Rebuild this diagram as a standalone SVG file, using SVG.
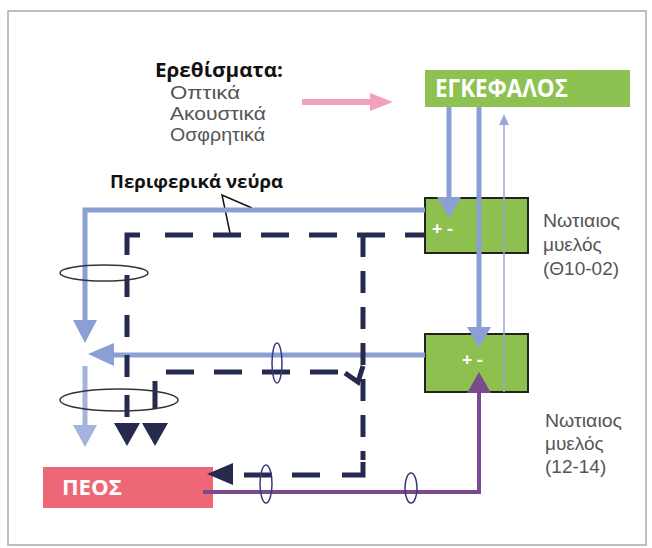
<svg xmlns="http://www.w3.org/2000/svg" width="652" height="548" viewBox="0 0 652 548">
<style>
.lbl{font-family:"Liberation Sans","DejaVu Sans",sans-serif;fill:#555;font-size:19px}
.bold{font-family:"Open Sans","Noto Sans","DejaVu Sans",sans-serif;font-weight:bold;fill:#111}
.wt{font-family:"Open Sans","Noto Sans","DejaVu Sans",sans-serif;font-weight:bold;fill:#fff}
.blue{fill:none;stroke:#8b9fd5;stroke-width:5}
.lblue{fill:none;stroke:#a3b3dc;stroke-width:5}
.dash{fill:none;stroke:#252a4e;stroke-width:5;stroke-dasharray:28 20}
.navy{fill:none;stroke:#252a4e;stroke-width:5}
.purple{fill:none;stroke:#7a4b8c;stroke-width:4}
.ell{fill:none;stroke:#333;stroke-width:1.5}
.ellb{fill:none;stroke:#3a3a7a;stroke-width:1.5}
.sc{fill:#8dc04f;stroke:#222;stroke-width:2}
</style>
<rect x="8" y="11" width="638" height="534" fill="#fff" stroke="#aaa" stroke-width="1.5"/>

<g id="stimuli">
<text class="bold" x="155" y="77" font-size="19" textLength="128" lengthAdjust="spacingAndGlyphs">Ερεθίσματα:</text>
<text class="lbl" x="170" y="99" font-size="18" textLength="70" lengthAdjust="spacingAndGlyphs">Οπτικά</text>
<text class="lbl" x="170" y="120" font-size="18" textLength="96" lengthAdjust="spacingAndGlyphs">Ακουστικά</text>
<text class="lbl" x="170" y="141" font-size="18" textLength="95" lengthAdjust="spacingAndGlyphs">Οσφρητικά</text>
</g>

<g id="brain">
<rect x="425" y="70" width="205" height="37" fill="#8dc152"/>
<text class="wt" x="435" y="97" font-size="25" textLength="133" lengthAdjust="spacingAndGlyphs">ΕΓΚΕΦΑΛΟΣ</text>
</g>

<g id="cord-upper">
<rect class="sc" x="425" y="198" width="103" height="55"/>
<text class="wt" x="432" y="235" font-size="18">+ -</text>
</g>
<g id="cord-upper-label">
<text class="lbl" x="543" y="227" textLength="77" lengthAdjust="spacingAndGlyphs">Νωτιαιος</text>
<text class="lbl" x="543" y="251">μυελός</text>
<text class="lbl" x="543" y="275">(Θ10-02)</text>
</g>

<g id="cord-lower">
<rect class="sc" x="425" y="334" width="103" height="58"/>
<text class="wt" x="462" y="366" font-size="18">+ -</text>
</g>
<g id="cord-lower-label">
<text class="lbl" x="545" y="427" textLength="77" lengthAdjust="spacingAndGlyphs">Νωτιαιος</text>
<text class="lbl" x="545" y="450">μυελός</text>
<text class="lbl" x="545" y="473">(12-14)</text>
</g>

<g id="penis">
<rect x="43" y="467" width="170" height="41" fill="#ee6777"/>
<text class="wt" x="62" y="495" font-size="21" textLength="60" lengthAdjust="spacingAndGlyphs">ΠΕΟΣ</text>
</g>

<g id="nerves-label">
<text class="bold" x="110" y="188" font-size="17" textLength="173" lengthAdjust="spacingAndGlyphs">Περιφερικά νεύρα</text>
<polyline points="252,208 222,195 230,233" fill="none" stroke="#111" stroke-width="1.5"/>
</g>

<g id="connectors">
<line x1="302" y1="102" x2="372" y2="102" stroke="#f1a2ba" stroke-width="6"/>
<polygon points="370,93 393,102 370,111" fill="#f1a2ba"/>

<line class="blue" x1="449" y1="107" x2="449" y2="200"/>
<polygon points="437,197 461,197 449,218" fill="#8b9fd5"/>
<line class="blue" x1="479" y1="107" x2="479" y2="330"/>
<polygon points="467,327 491,327 479,348" fill="#8b9fd5"/>
<line x1="504" y1="392" x2="504" y2="120" stroke="#9aa8d8" stroke-width="1.5"/>
<polygon points="499,125 509,125 504,114" fill="#9aa8d8"/>

<path class="blue" d="M425,210 H85 V322"/>
<polygon points="73,320 97,320 85,343" fill="#8b9fd5"/>
<path class="blue" d="M425,355 H112"/>
<polygon points="114,343 114,366 88,354" fill="#8b9fd5"/>
<path class="lblue" d="M85,366 V428"/>
<polygon points="73,425 97,425 85,447" fill="#a3b3dc"/>

<path class="navy" d="M405,235 H425"/>
<path class="navy" d="M127,255 V235 H140"/>
<path class="dash" d="M385,235 H158"/>
<path class="dash" d="M127,275 V417" style="stroke-dasharray:22 18"/>
<polygon points="114,423 140,423 127,446" fill="#252a4e"/>
<path class="dash" d="M363,235 V460" style="stroke-dasharray:22 14"/>
<path class="navy" d="M363,462 V475 H342"/>
<path class="dash" d="M320,475 H236"/>
<polygon points="233,463 233,485 207,474" fill="#252a4e"/>
<polyline class="navy" points="363,366 358,382 345,373"/>
<path class="dash" d="M338,372 H155 V423"/>
<polygon points="142,423 168,423 155,446" fill="#252a4e"/>

<path class="purple" d="M203,492 H479 V390"/>
<polygon points="467,393 491,393 479,372" fill="#7a4b8c"/>

<ellipse class="ell" cx="104" cy="273" rx="44" ry="8"/>
<ellipse class="ell" cx="119" cy="400" rx="59" ry="11"/>
<ellipse class="ellb" cx="277" cy="363" rx="5" ry="20"/>
<ellipse class="ellb" cx="266" cy="484" rx="6" ry="19"/>
<ellipse class="ellb" cx="411" cy="488" rx="6" ry="15"/>
</g>
</svg>
